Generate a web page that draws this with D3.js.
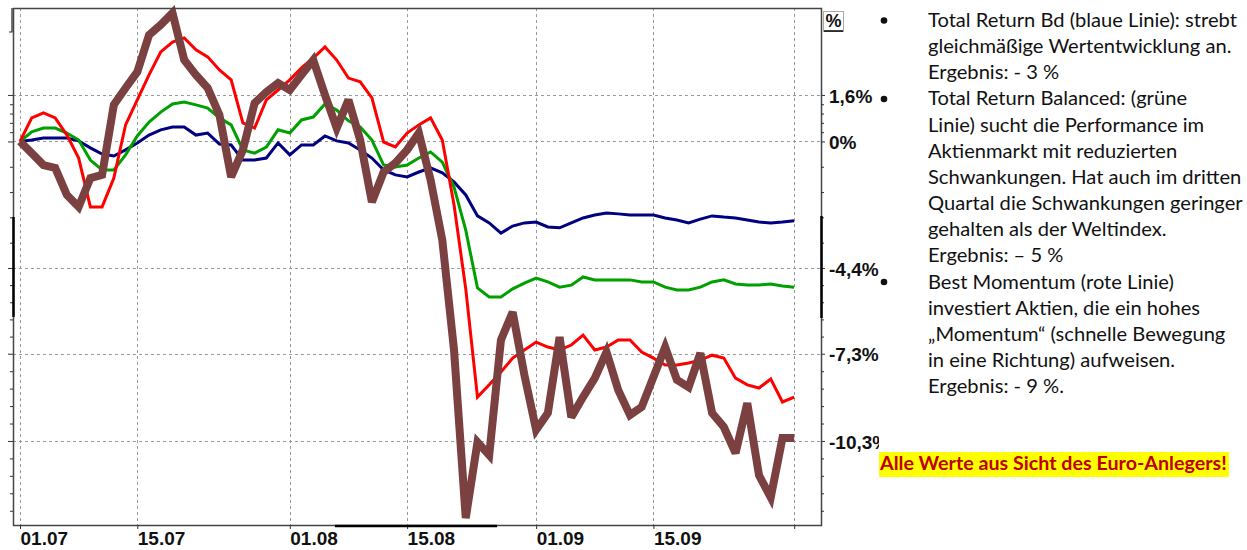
<!DOCTYPE html>
<html>
<head>
<meta charset="utf-8">
<script src="https://cdn.jsdelivr.net/npm/d3@7"></script>
<style>
  body { margin: 0; background: #fff; }
  svg { display: block; }
</style>
</head>
<body>
<svg id="chart"></svg>
<script>
// trading-day index of each x tick (01.07 .. end of September)
const tickIndex = [0, 10, 23, 33, 44, 54, 66];
const tickLabels = ['01.07', '15.07', '01.08', '15.08', '01.09', '15.09', ''];

// right axis (percent)
const yTicks = [1.6, 0, -4.35, -7.3, -10.3];
const yTickLabels = ['1,6%', '0%', '-4,4%', '-7,3%', '-10,3%'];

// Total Return Bd (blue)
const bondValues = [0, 0.05, 0.12, 0.12, 0.12, 0.02, -0.22, -0.43, -0.5, -0.29,
  -0.05, 0.22, 0.4, 0.5, 0.5, 0.22, 0.29, -0.09, -0.12, -0.64,
  -0.64, -0.57, -0.05, -0.46, -0.12, -0.12, 0.19, 0.02, -0.05, -0.29,
  -0.57, -0.98, -1.15, -1.22, -1.05, -0.91, -1.08, -1.39, -1.84, -2.56,
  -2.8, -3.15, -2.91, -2.8, -2.77, -2.94, -2.97, -2.8, -2.63, -2.53,
  -2.46, -2.49, -2.53, -2.53, -2.53, -2.63, -2.7, -2.8, -2.67, -2.56,
  -2.6, -2.63, -2.7, -2.77, -2.8, -2.77, -2.73];

// Total Return Balanced (green)
const balancedValues = [0, 0.33, 0.46, 0.46, 0.29, 0.05, -0.64, -0.98, -0.98, -0.46,
  0.19, 0.67, 1.01, 1.29, 1.36, 1.26, 1.15, 0.81, 0.57, -0.29,
  -0.4, -0.19, 0.4, 0.29, 0.74, 0.84, 1.29, 1.08, 0.71, 0.5,
  0.05, -0.81, -0.88, -0.81, -0.57, -0.36, -0.71, -1.57, -3.05, -5.04,
  -5.35, -5.35, -5.07, -4.87, -4.7, -4.83, -5.01, -4.94, -4.66, -4.76,
  -4.76, -4.76, -4.76, -4.83, -4.83, -5.01, -5.11, -5.11, -5.01, -4.83,
  -4.76, -4.9, -4.94, -4.94, -4.9, -4.97, -5.01];

// Best Momentum (red)
const momentumValues = [0, 0.81, 0.98, 0.81, 0.22, -0.57, -2.25, -2.25, -1.26, 0.57,
  1.43, 2.29, 3.08, 3.42, 3.56, 3.15, 2.91, 2.46, 2.12, 0.64,
  0.46, 1.43, 1.77, 2.12, 2.53, 2.87, 3.25, 2.8, 2.18, 2.05,
  1.5, -0.02, -0.19, 0.29, 0.57, 0.81, 0.05, -2.18, -5.07, -8.79,
  -8.37, -7.93, -7.45, -7.17, -6.9, -7.07, -7.17, -7.0, -6.66, -7.17,
  -7.07, -6.83, -6.83, -7.24, -7.45, -7.69, -7.69, -7.62, -7.52, -7.35,
  -7.45, -8.14, -8.37, -8.48, -8.17, -8.96, -8.79];

// world index (brown)
const worldValues = [0, -0.4, -0.81, -0.91, -1.84, -2.25, -1.26, -1.15, 1.26, 1.84,
  2.39, 3.66, 4.01, 4.42, 2.8, 2.29, 1.84, 0.91, -1.22, -0.29,
  1.32, 1.7, 2.01, 1.77, 2.29, 2.8, 1.6, 0.46, 1.43, 0.05,
  -2.08, -1.05, -0.74, -0.29, 0.29, -1.32, -3.39, -7.17, -12.95, -10.34,
  -10.79, -6.83, -5.87, -8.03, -9.92, -9.34, -6.73, -9.48, -8.79, -8.14,
  -7.24, -8.55, -9.41, -9.13, -8.1, -7.07, -8.2, -8.45, -7.28, -9.34,
  -9.82, -10.72, -9.0, -11.48, -12.24, -10.2, -10.2];

const noteLines = [
  'Total Return Bd (blaue Linie): strebt',
  'gleichmäßige Wertentwicklung an.',
  'Ergebnis: - 3 %',
  'Total Return Balanced: (grüne',
  'Linie) sucht die Performance im',
  'Aktienmarkt mit reduzierten',
  'Schwankungen. Hat auch im dritten',
  'Quartal die Schwankungen geringer',
  'gehalten als der Weltindex.',
  'Ergebnis: – 5 %',
  'Best Momentum (rote Linie)',
  'investiert Aktien, die ein hohes',
  '„Momentum“ (schnelle Bewegung',
  'in eine Richtung) aufweisen.',
  'Ergebnis: - 9 %.'
];
const bulletLines = [0, 3, 10];
const noteBanner = 'Alle Werte aus Sicht des Euro-Anlegers!';

const series = [
  { values: bondValues, color: '#000080', width: 3 },
  { values: balancedValues, color: '#00a000', width: 3 },
  { values: momentumValues, color: '#ff0000', width: 3 },
  { values: worldValues, color: '#7b4141', width: 8 }
];

const axisFont = '"Liberation Sans", Arial, sans-serif';
const noteFont = 'Lato, "Open Sans", sans-serif';

const margin = { top: 8, left: 13 };
const width = 808;
const height = 517;

const svg = d3.select('#chart')
    .attr('width', 1247)
    .attr('height', 550);

const chart = svg.append('g')
    .attr('transform', `translate(${margin.left},${margin.top})`);

const xScale = d3.scaleLinear()
    .domain([0, 66])
    .range([7, 781.2]);

const yScale = d3.scaleLinear()
    .domain([-13.19, 4.59])
    .range([height, 0]);

// minor ticks: 5 steps between major ticks, continued below the last one
const minorTicks = [];
for (let i = 0; i < yTicks.length - 1; i++) {
  const step = (yTicks[i + 1] - yTicks[i]) / 5;
  for (let k = 1; k < 5; k++) minorTicks.push(yTicks[i] + k * step);
}
const lastStep = (yTicks[yTicks.length - 1] - yTicks[yTicks.length - 2]) / 5;
for (let v = yTicks[yTicks.length - 1] + lastStep; v > yScale.domain()[0]; v += lastStep) {
  minorTicks.push(v);
}

// grid
const grid = chart.append('g')
    .attr('stroke', '#9a9a9a')
    .attr('stroke-width', 1)
    .attr('stroke-dasharray', '3,3');

grid.selectAll('.h-grid')
    .data(yTicks)
    .join('line')
    .attr('class', 'h-grid')
    .attr('x1', 0).attr('x2', width)
    .attr('y1', d => Math.round(yScale(d)) + 0.5)
    .attr('y2', d => Math.round(yScale(d)) + 0.5);

grid.selectAll('.v-grid')
    .data(tickIndex)
    .join('line')
    .attr('class', 'v-grid')
    .attr('y1', 0).attr('y2', height)
    .attr('x1', d => Math.round(xScale(d)) + 0.5)
    .attr('x2', d => Math.round(xScale(d)) + 0.5);

// lines
const line = d3.line()
    .x((d, i) => xScale(i))
    .y(d => yScale(d));

chart.selectAll('.chart-line')
    .data(series)
    .join('path')
    .attr('class', 'chart-line')
    .attr('fill', 'none')
    .attr('stroke', d => d.color)
    .attr('stroke-width', d => d.width)
    .attr('stroke-linejoin', 'miter')
    .attr('stroke-miterlimit', 3)
    .attr('d', d => line(d.values));

// frame
chart.append('rect')
    .attr('x', 0.5).attr('y', 0.5)
    .attr('width', width).attr('height', height)
    .attr('fill', 'none')
    .attr('stroke', '#444')
    .attr('stroke-width', 1.5);

// left axis
const leftMajor = d3.axisLeft(yScale).tickValues(yTicks).tickSize(5).tickFormat('');
const leftMinor = d3.axisLeft(yScale).tickValues(minorTicks).tickSize(3).tickFormat('');
chart.append('g').attr('class', 'axis').call(leftMajor);
chart.append('g').attr('class', 'axis').call(leftMinor);

// right axis with labels, clipped like the original text frame
const rightG = chart.append('g')
    .attr('class', 'axis')
    .attr('transform', `translate(${width},0)`);

rightG.append('clipPath').attr('id', 'right-clip')
  .append('rect')
    .attr('x', -2).attr('y', -10)
    .attr('width', 60).attr('height', height + 20);

const rightMajor = d3.axisRight(yScale)
    .tickValues(yTicks)
    .tickSize(4)
    .tickPadding(4)
    .tickFormat((d, i) => yTickLabels[i]);
const rightMinor = d3.axisRight(yScale).tickValues(minorTicks).tickSize(3).tickFormat('');

rightG.append('g').attr('clip-path', 'url(#right-clip)').call(rightMajor);
rightG.append('g').call(rightMinor);

// bottom axis
const xAxis = d3.axisBottom(xScale)
    .tickValues(tickIndex)
    .tickSize(4)
    .tickPadding(3)
    .tickFormat((d, i) => tickLabels[i]);
const xAxisG = chart.append('g')
    .attr('class', 'axis')
    .attr('transform', `translate(0,${height})`)
    .call(xAxis);
xAxisG.selectAll('text').attr('text-anchor', 'start');

chart.selectAll('.axis .domain').remove();
chart.selectAll('.axis line').attr('stroke', '#333');
chart.selectAll('.axis text')
    .attr('fill', '#111')
    .style('font-family', axisFont)
    .style('font-weight', 'bold');
rightG.selectAll('text').style('font-size', '19px').attr('dy', '0.38em');
xAxisG.selectAll('text').style('font-size', '19px');

// thick axis segments from the original screenshot
const thick = chart.append('g').attr('stroke', '#000').attr('stroke-width', 2.5);
thick.append('line').attr('x1', 0.5).attr('x2', 0.5).attr('y1', 209).attr('y2', 309);
thick.append('line').attr('x1', width + 0.5).attr('x2', width + 0.5).attr('y1', 208).attr('y2', 310);
thick.append('line').attr('x1', 322).attr('x2', 484).attr('y1', height + 1).attr('y2', height + 1);

// little bracket at the top left
chart.append('path')
    .attr('d', 'M-1,0 V24 H-4')
    .attr('fill', 'none')
    .attr('stroke', '#222')
    .attr('stroke-width', 1.2);

// "%" header box
const unit = chart.append('g').attr('transform', `translate(${width + 2},3)`);
unit.append('rect')
    .attr('x', 0.5).attr('y', 0.5)
    .attr('width', 20).attr('height', 20)
    .attr('fill', 'none')
    .attr('stroke', '#aaa');
unit.append('text')
    .attr('x', 2.5).attr('y', 16)
    .style('font-family', axisFont)
    .style('font-weight', 'bold')
    .style('font-size', '18px')
    .attr('fill', '#111')
    .text('%');
unit.append('line')
    .attr('x1', 1).attr('x2', 20)
    .attr('y1', 20).attr('y2', 20)
    .attr('stroke', '#000')
    .attr('stroke-width', 1.5);

// notes on the right
const notes = svg.append('g').attr('class', 'notes');
const noteText = notes.selectAll('text')
    .data(noteLines)
    .join('text')
    .attr('x', 928)
    .attr('y', (d, i) => 27 + i * 26.15)
    .attr('fill', '#111')
    .style('font-family', noteFont)
    .style('font-size', '18px')
    .text(d => d);

// scale font so the first line fills the same width as in the picture
const firstW = noteText.node().getComputedTextLength();
noteText.style('font-size', (18 * 309 / firstW) + 'px');

notes.selectAll('circle')
    .data(bulletLines)
    .join('circle')
    .attr('cx', 884)
    .attr('cy', d => 27 + d * 26.15 - 6.5)
    .attr('r', 3.3)
    .attr('fill', '#111');

const banner = svg.append('g');
banner.append('rect')
    .attr('x', 879).attr('y', 452)
    .attr('width', 350).attr('height', 25)
    .attr('fill', '#ffff00');
const bannerText = banner.append('text')
    .attr('x', 880).attr('y', 470)
    .attr('fill', '#c00000')
    .style('font-family', noteFont)
    .style('font-weight', 'bold')
    .style('font-size', '18px')
    .text(noteBanner);
const bannerW = bannerText.node().getComputedTextLength();
bannerText.style('font-size', (18 * 347 / bannerW) + 'px');
</script>
</body>
</html>
